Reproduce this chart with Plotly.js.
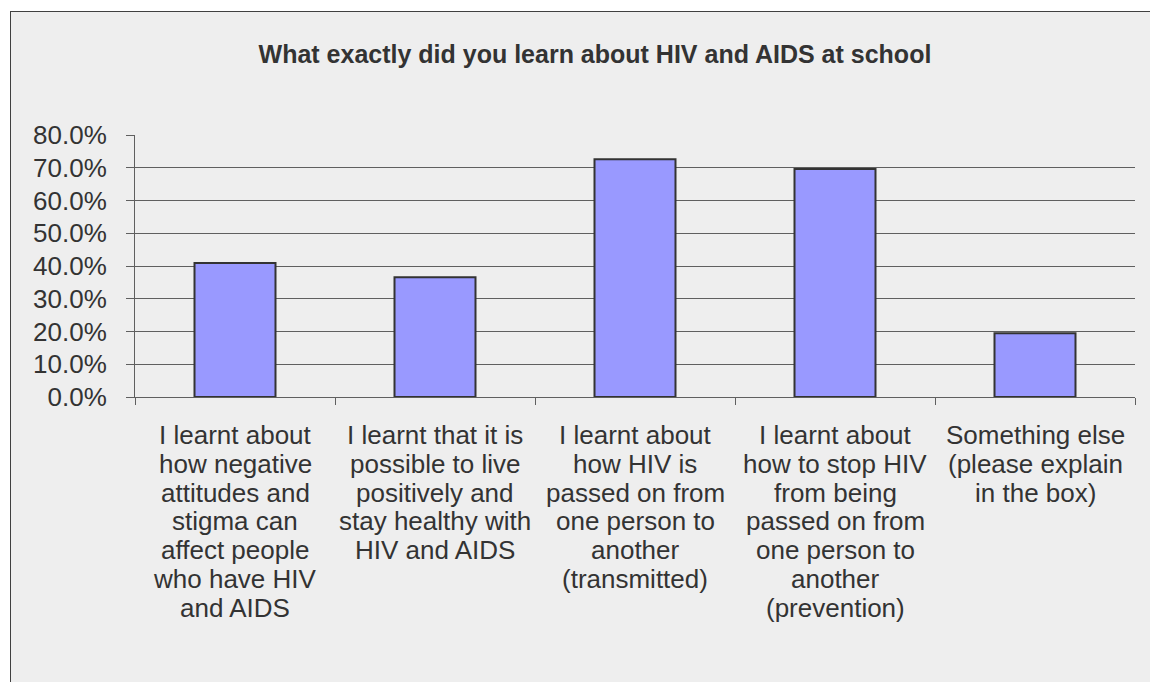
<!DOCTYPE html>
<html>
<head>
<meta charset="utf-8">
<script src="https://cdn.plot.ly/plotly-3.0.1.min.js"></script>
<style>
  html, body { margin: 0; padding: 0; background: #ffffff; overflow: hidden; width: 1150px; height: 682px; }
  #frame { position: absolute; left: 10px; top: 11px; width: 1140px; height: 671px;
           border-left: 1px solid #404040; border-top: 1px solid #404040; background: #eeeeee; }
  #chart { width: 1139px; height: 670px; }
</style>
</head>
<body>
<div id="frame"><div id="chart"></div></div>
<script>
// Data
var categories = [
  "I learnt about<br>how negative<br>attitudes and<br>stigma can<br>affect people<br>who have HIV<br>and AIDS",
  "I learnt that it is<br>possible to live<br>positively and<br>stay healthy with<br>HIV and AIDS",
  "I learnt about<br>how HIV is<br>passed on from<br>one person to<br>another<br>(transmitted)",
  "I learnt about<br>how to stop HIV<br>from being<br>passed on from<br>one person to<br>another<br>(prevention)",
  "Something else<br>(please explain<br>in the box)"
];
var values = [0.409, 0.366, 0.726, 0.696, 0.195];
var yTickValues = [0, 0.1, 0.2, 0.3, 0.4, 0.5, 0.6, 0.7, 0.8];
var chartTitle = "What exactly did you learn about HIV and AIDS at school";

var textColor = "#333333";
var gridColor = "#5f5f5f";
var fontFamily = "Liberation Sans, Arial, sans-serif";
var labelSize = 26;
var lineStep = 28.8;

var annotations = [];
categories.forEach(function (cat, i) {
  cat.split("<br>").forEach(function (line, k) {
    annotations.push({
      x: i, xref: "x", y: 0, yref: "paper",
      text: line, showarrow: false,
      xanchor: "center", yanchor: "middle",
      yshift: -(38 + k * lineStep),
      font: { family: fontFamily, size: labelSize, color: textColor }
    });
  });
});

var trace = {
  type: "bar",
  x: categories.map(function (c, i) { return i; }),
  y: values,
  marker: { color: "#9999ff", line: { color: "#333333", width: 2 } },
  hoverinfo: "none"
};

var layout = {
  width: 1139, height: 670,
  margin: { l: 124, r: 15, t: 123, b: 285 },
  paper_bgcolor: "#eeeeee",
  plot_bgcolor: "#eeeeee",
  showlegend: false,
  bargap: 0.595,
  title: {
    text: "<b>" + chartTitle + "</b>",
    font: { family: fontFamily, size: 25, color: textColor },
    x: 0.5127, xref: "container", xanchor: "center",
    y: 0.937, yref: "container", yanchor: "middle"
  },
  xaxis: {
    type: "linear",
    range: [-0.5, categories.length - 0.5],
    tickvals: [-0.5, 0.5, 1.5, 2.5, 3.5, 4.5],
    showticklabels: false,
    ticks: "outside", ticklen: 7, tickcolor: gridColor, tickwidth: 1,
    showgrid: false, zeroline: false,
    showline: true, linecolor: gridColor, linewidth: 1,
    fixedrange: true
  },
  yaxis: {
    range: [0, 0.8],
    tickvals: yTickValues,
    tickformat: ".1%",
    ticks: "outside", ticklen: 8, tickcolor: gridColor, tickwidth: 1,
    ticklabelstandoff: 14,
    tickfont: { family: fontFamily, size: labelSize, color: textColor },
    showgrid: true, gridcolor: gridColor, gridwidth: 1,
    zeroline: false,
    showline: true, linecolor: gridColor, linewidth: 1,
    fixedrange: true
  },
  annotations: annotations
};

Plotly.newPlot("chart", [trace], layout, { displayModeBar: false, staticPlot: true });
</script>
</body>
</html>
